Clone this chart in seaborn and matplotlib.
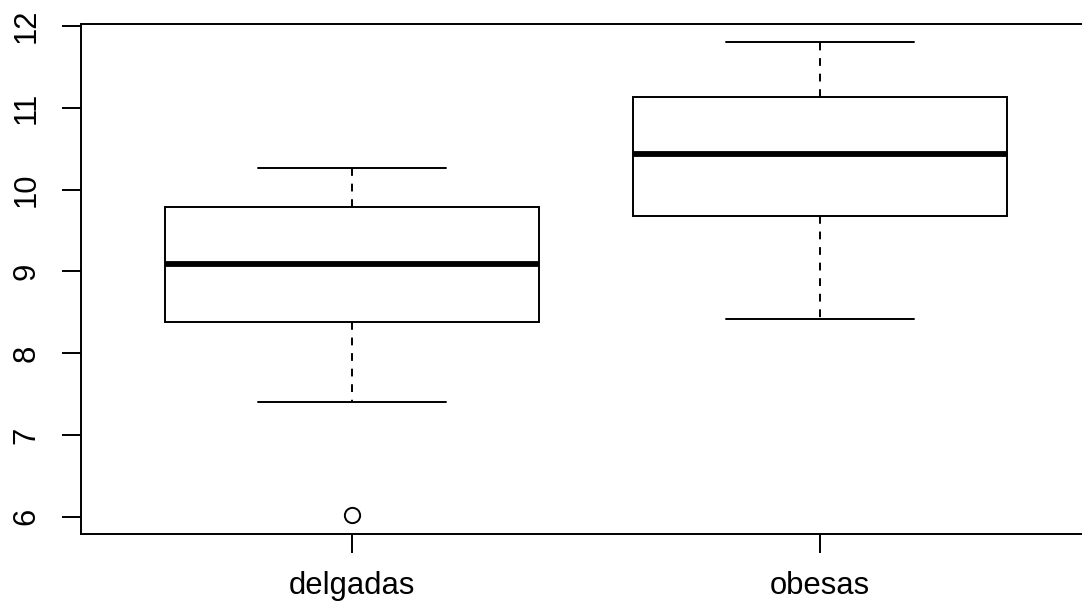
import matplotlib
matplotlib.use("Agg")
import matplotlib.pyplot as plt
import seaborn as sns
import pandas as pd

# valores (cuartiles, bigotes y atípico)
delgadas = [6.02, 7.40, 8.385, 8.385, 9.087, 9.79, 9.79, 10.26, 10.26]
obesas = [8.42, 9.68, 10.43, 11.13, 11.80]
grupos = ["delgadas", "obesas"]
y_ticks = [6, 7, 8, 9, 10, 11, 12]

df = pd.DataFrame({
    "grupo": ["delgadas"] * len(delgadas) + ["obesas"] * len(obesas),
    "valor": delgadas + obesas,
})

sns.set_style("white")
plt.rcParams["font.family"] = ["Liberation Sans", "DejaVu Sans"]

fig = plt.figure(figsize=(10.82, 6.11), dpi=100)
ax = fig.add_axes([81 / 1082, 1 - 534 / 611, 1010 / 1082, 510.5 / 611])

lw = 1.4
sns.boxplot(data=df, x="grupo", y="valor", order=grupos, ax=ax,
            color="white", linecolor="black", linewidth=lw, width=0.8,
            whis=1.5, fliersize=11,
            whiskerprops=dict(linestyle=(0, (4, 4)), linewidth=lw),
            capprops=dict(linestyle="-", linewidth=lw),
            medianprops=dict(linewidth=4.2, color="black"),
            flierprops=dict(marker="o", markerfacecolor="none",
                            markeredgecolor="black", markeredgewidth=lw))

ax.set_xlim(-0.579, 1.579)
ax.set_ylim(5.79, 12.03)
ax.set_yticks(y_ticks)
ax.set_yticklabels([str(t) for t in y_ticks], rotation=90, va="center")
ax.set_xlabel("")
ax.set_ylabel("")

for s in ax.spines.values():
    s.set_visible(True)
    s.set_color("black")
    s.set_linewidth(lw)

ax.tick_params(axis="both", direction="out", length=13.7, width=lw,
               labelsize=22.3, color="black", labelcolor="black")
ax.tick_params(axis="y", pad=15, left=True)
ax.tick_params(axis="x", pad=13, bottom=True)

fig.savefig("out.png", dpi=100)
